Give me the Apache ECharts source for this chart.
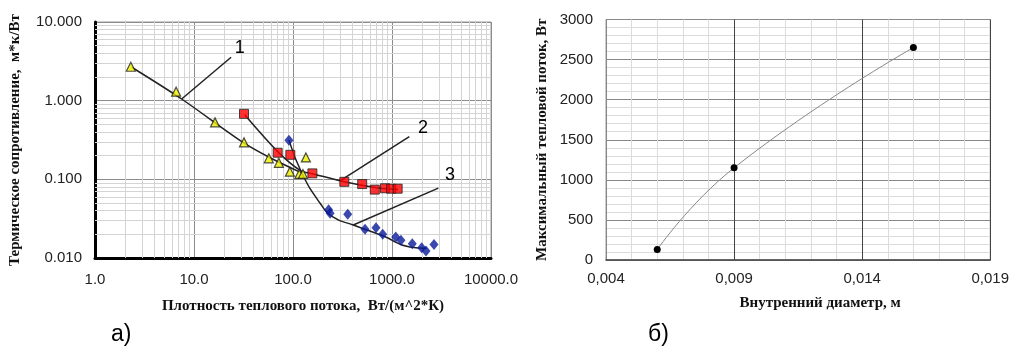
<!DOCTYPE html>
<html><head><meta charset="utf-8">
<script src="https://cdn.jsdelivr.net/npm/echarts@6/dist/echarts.min.js"></script>
<style>html,body{margin:0;padding:0;background:#fff}#c{width:1012px;height:347px}</style>
</head><body><div id="c"></div>
<script>
// ---- Chart (a): thermal resistance vs heat flux density (log-log) ----
const xTicksA = [1, 10, 100, 1000, 10000];
const yTicksA = [0.01, 0.1, 1, 10];
const yellowX = [2.3, 6.6, 16.3, 32, 57, 72, 93, 116, 126, 135];
const yellowY = [2.7, 1.3, 0.53, 0.295, 0.185, 0.162, 0.125, 0.117, 0.117, 0.19];
const redX = [32, 70, 94, 157, 330, 500, 670, 850, 980, 1140];
const redY = [0.68, 0.218, 0.205, 0.119, 0.093, 0.087, 0.074, 0.077, 0.076, 0.076];
const blueX = [91, 229, 237, 357, 534, 689, 805, 1090, 1231, 1603, 1995, 2205, 2655];
const blueY = [0.315, 0.041, 0.037, 0.036, 0.0232, 0.0243, 0.020, 0.0185, 0.0168, 0.0152, 0.0135, 0.0123, 0.0149];
const curve1X = [2.35, 7.5, 31.3, 58.6, 122];
const curve1Y = [2.66, 1.05, 0.294, 0.188, 0.121];
const curve2X = [32.5, 70, 120, 157, 330, 700, 1150];
const curve2Y = [0.66, 0.225, 0.128, 0.118, 0.093, 0.078, 0.074];
const curve3X = [91, 122, 187, 255, 406, 817, 1514, 2240];
const curve3Y = [0.315, 0.122, 0.05, 0.033, 0.0263, 0.019, 0.0138, 0.0133];
const leaderNames = ['1', '2', '3'];
const leaderFromX = [7.5, 298, 406];
const leaderFromY = [1.05, 0.0957, 0.0263];
const leaderToX = [23.7, 1496, 2937];
const leaderToY = [3.56, 0.348, 0.0773];
const leaderLabelX = [29, 2056, 3855];
const leaderLabelY = [4.6, 0.453, 0.114];
const xTitleA = 'Плотность теплового потока,  Вт/(м^2*К)';
const yTitleA = 'Термическое сопротивление,  м*к/Вт';

// ---- Chart (b): max heat flow vs inner diameter ----
const diamX = [0.006, 0.009, 0.016];
const heatY = [130, 1150, 2650];
const xTicksB = [0.004, 0.009, 0.014, 0.019];
const yTicksB = [0, 500, 1000, 1500, 2000, 2500, 3000];
const xTitleB = 'Внутренний диаметр, м';
const yTitleB = 'Максимальный тепловой поток, Вт';

const zip = (xs, ys) => xs.map((x, i) => [x, ys[i]]);

// minor log grid values (2..9 per decade)
function minorLogs(lo, hi) {
  const out = [];
  for (let d = lo; d < hi; d *= 10) for (let k = 2; k <= 9; k++) out.push(+(d * k).toPrecision(3));
  return out;
}
const minorXA = minorLogs(xTicksA[0], xTicksA[xTicksA.length - 1]);
const minorYA = minorLogs(yTicksA[0], yTicksA[yTicksA.length - 1]);

const serifBold = {fontFamily: 'Liberation Serif', fontWeight: 'bold', fontSize: 15, color: '#111'};
const tickFont = {fontFamily: 'Liberation Sans', fontSize: 15, color: '#222'};

const chart = echarts.init(document.getElementById('c'), null, {renderer: 'canvas'});
const trendStyle = {color: '#222', width: 1.5};

const option = {
  animation: false,
  backgroundColor: '#fff',
  grid: [
    {left: 95, top: 22, width: 396, height: 236, show: true, borderColor: '#999', borderWidth: 1},
    {left: 606, top: 19.5, width: 385, height: 240.5, show: true, borderColor: '#999', borderWidth: 1}
  ],
  xAxis: [
    {gridIndex: 0, type: 'log', logBase: 10, min: xTicksA[0], max: xTicksA[xTicksA.length - 1],
      axisLine: {show: true, onZero: false, lineStyle: {color: '#000', width: 3}},
      axisTick: {show: false},
      axisLabel: Object.assign({margin: 14, formatter: v => Number(v).toFixed(1)}, tickFont),
      splitLine: {show: true, lineStyle: {color: '#8c8c8c', width: 1}},
      name: xTitleA, nameLocation: 'middle', nameGap: 41,
      nameTextStyle: Object.assign({padding: [0, 0, 0, 20]}, serifBold)},
    {gridIndex: 1, type: 'value', min: xTicksB[0], max: xTicksB[xTicksB.length - 1], interval: 0.005,
      axisLine: {show: true, onZero: false, lineStyle: {color: '#444', width: 1.5}},
      axisTick: {show: false},
      axisLabel: Object.assign({margin: 11, formatter: v => Number(v).toFixed(3).replace('.', ',')}, tickFont),
      splitLine: {show: true, lineStyle: {color: '#444', width: 1}},
      minorTick: {show: false, splitNumber: 5},
      minorSplitLine: {show: true, lineStyle: {color: '#dcdcdc', width: 1}},
      name: xTitleB, nameLocation: 'middle', nameGap: 36,
      nameTextStyle: Object.assign({padding: [0, 0, 0, 44]}, serifBold)}
  ],
  yAxis: [
    {gridIndex: 0, type: 'log', logBase: 10, min: yTicksA[0], max: yTicksA[yTicksA.length - 1],
      axisLine: {show: true, onZero: false, lineStyle: {color: '#000', width: 3}},
      axisTick: {show: false},
      axisLabel: Object.assign({margin: 13, formatter: v => Number(v).toFixed(3)}, tickFont),
      splitLine: {show: true, lineStyle: {color: '#8c8c8c', width: 1}},
      name: yTitleA, nameLocation: 'middle', nameGap: 72, nameRotate: 90,
      nameTextStyle: serifBold},
    {gridIndex: 1, type: 'value', min: yTicksB[0], max: yTicksB[yTicksB.length - 1], interval: 500,
      axisLine: {show: true, onZero: false, lineStyle: {color: '#888', width: 1}},
      axisTick: {show: false},
      axisLabel: Object.assign({margin: 13, formatter: v => String(v)}, tickFont),
      splitLine: {show: true, lineStyle: {color: '#888', width: 1}},
      minorTick: {show: false, splitNumber: 5},
      minorSplitLine: {show: true, lineStyle: {color: '#dcdcdc', width: 1}},
      name: yTitleB, nameLocation: 'middle', nameGap: 56, nameRotate: 90,
      nameTextStyle: serifBold}
  ],
  series: [
    // minor log gridlines of chart (a)
    {type: 'line', xAxisIndex: 0, yAxisIndex: 0, data: [[xTicksA[0], yTicksA[0]]], symbol: 'none',
      lineStyle: {width: 0}, silent: true, z: 1,
      markLine: {silent: true, z: 1, symbol: 'none', label: {show: false}, animation: false,
        lineStyle: {color: '#d4d4d4', width: 1, type: 'solid'},
        data: minorXA.map(v => ({xAxis: v})).concat(minorYA.map(v => ({yAxis: v})))}},
    // trend curves
    {type: 'line', xAxisIndex: 0, yAxisIndex: 0, data: zip(curve1X, curve1Y), smooth: 0.3, symbol: 'none', lineStyle: trendStyle, z: 3},
    {type: 'line', xAxisIndex: 0, yAxisIndex: 0, data: zip(curve2X, curve2Y), smooth: 0.3, symbol: 'none', lineStyle: trendStyle, z: 3},
    {type: 'line', xAxisIndex: 0, yAxisIndex: 0, data: zip(curve3X, curve3Y), smooth: 0.5, symbol: 'none', lineStyle: trendStyle, z: 3},
    // leader lines
    ...leaderNames.map((n, i) => ({type: 'line', xAxisIndex: 0, yAxisIndex: 0,
      data: [[leaderFromX[i], leaderFromY[i]], [leaderToX[i], leaderToY[i]]],
      symbol: 'none', lineStyle: {color: '#222', width: 1.5}, z: 3})),
    // leader labels
    {type: 'scatter', xAxisIndex: 0, yAxisIndex: 0, symbolSize: 1, z: 6,
      itemStyle: {color: 'rgba(255,255,255,0)'},
      data: leaderNames.map((n, i) => ({value: [leaderLabelX[i], leaderLabelY[i]], name: n})),
      label: {show: true, position: 'inside', formatter: p => p.name, fontFamily: 'Liberation Sans', fontSize: 18,
        color: '#000', opacity: 1, textBorderWidth: 0}},
    // markers
    {type: 'scatter', xAxisIndex: 0, yAxisIndex: 0, data: zip(yellowX, yellowY), symbol: 'triangle', symbolSize: 9,
      itemStyle: {color: '#f0f000', borderColor: '#222', borderWidth: 1.2}, z: 4},
    {type: 'scatter', xAxisIndex: 0, yAxisIndex: 0, data: zip(redX, redY), symbol: 'rect', symbolSize: 9,
      itemStyle: {color: '#ff0000', borderColor: '#222', borderWidth: 1}, z: 4},
    {type: 'scatter', xAxisIndex: 0, yAxisIndex: 0, data: zip(blueX, blueY), symbol: 'diamond', symbolSize: [9, 11],
      itemStyle: {color: '#0a1a9a'}, z: 4},
    // chart (b)
    {type: 'line', xAxisIndex: 1, yAxisIndex: 1, data: zip(diamX, heatY), smooth: true, symbol: 'circle', symbolSize: 7,
      showSymbol: true, lineStyle: {color: '#888', width: 1}, itemStyle: {color: '#000'}, z: 4}
  ],
  graphic: [
    {type: 'text', left: 111, top: 323, style: {text: 'а)', font: '23px "Liberation Sans"', fill: '#000'}},
    {type: 'text', left: 648, top: 323, style: {text: 'б)', font: '23px "Liberation Sans"', fill: '#000'}}
  ]
};
chart.setOption(option);
</script></body></html>
